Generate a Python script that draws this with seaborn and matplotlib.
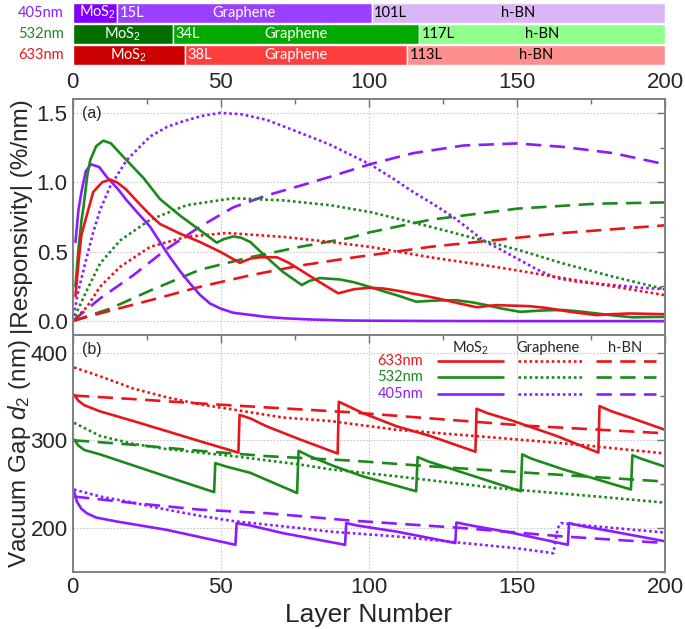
import numpy as np
import pandas as pd
import matplotlib
matplotlib.use('Agg')
import matplotlib.pyplot as plt
import seaborn as sns
from matplotlib.ticker import MultipleLocator

# ---- top strip: which material wins for each layer count
strip_wl = ['633nm', '532nm', '405nm']
mos2_end = [38, 34, 15]
graph_end = [113, 117, 101]
strip_cols = [['#cc0000', '#ff3f3f', '#ff8f8f'],
              ['#006e00', '#00aa00', '#90ff8c'],
              ['#7f00ff', '#9b40ff', '#dbb6f7']]

# ---- panel (a): |responsivity| (%/nm)
a_633_mos2_x = [1, 2, 3, 5.3, 7, 10, 12.7, 15, 18, 22.8, 26, 29.5, 36.3, 43, 49.8, 56.5, 60, 63.3, 69, 73, 76.8, 83.5, 89.7, 95, 100.4, 105, 109.4, 117, 124, 130, 136.4, 143, 154, 160, 168, 177, 182, 188, 195, 200]
a_633_mos2_y = [0.18, 0.42, 0.62, 0.80, 0.93, 1.00, 1.02, 1.00, 0.95, 0.84, 0.77, 0.70, 0.63, 0.57, 0.50, 0.42, 0.45, 0.46, 0.46, 0.42, 0.37, 0.28, 0.20, 0.23, 0.24, 0.235, 0.22, 0.19, 0.16, 0.13, 0.10, 0.115, 0.108, 0.095, 0.067, 0.043, 0.05, 0.055, 0.052, 0.05]

a_532_mos2_x = [1, 2, 3, 3.7, 5, 6, 8, 10.4, 13, 16, 20, 24, 29.5, 36.3, 43, 48.7, 51, 54.3, 57, 60, 65.5, 71, 77.4, 80, 83.5, 90.3, 95, 100.5, 105, 109.4, 116, 120, 125, 129.7, 135, 139.8, 145, 151, 155, 160, 165.6, 171, 177, 183, 189.3, 195, 200]
a_532_mos2_y = [0.25, 0.52, 0.72, 0.82, 1.05, 1.16, 1.26, 1.30, 1.28, 1.21, 1.12, 1.03, 0.88, 0.76, 0.655, 0.565, 0.59, 0.61, 0.60, 0.57, 0.46, 0.355, 0.26, 0.29, 0.31, 0.30, 0.28, 0.245, 0.215, 0.187, 0.14, 0.145, 0.15, 0.15, 0.135, 0.115, 0.09, 0.067, 0.072, 0.078, 0.08, 0.07, 0.055, 0.04, 0.027, 0.03, 0.03]

a_405_mos2_x = [1, 2, 3.1, 4.5, 6.2, 9, 11.5, 15, 18.3, 22, 26.2, 29.5, 32.9, 36.3, 39.7, 43, 46.4, 50, 54.3, 60, 65.5, 72, 80, 91, 100, 120, 150, 200]
a_405_mos2_y = [0.57, 0.80, 0.94, 1.08, 1.13, 1.11, 1.04, 0.96, 0.87, 0.78, 0.68, 0.57, 0.46, 0.36, 0.27, 0.19, 0.127, 0.09, 0.06, 0.045, 0.03, 0.02, 0.012, 0.005, 0.003, 0.001, 0.0, 0.0]

a_405_gr_x = [0, 2, 4.8, 7, 9.3, 12.7, 18.3, 26.2, 32, 37.4, 44, 49.8, 57, 65.5, 74, 82.4, 87, 93.7, 100.4, 108, 115, 122, 128.5, 134, 138.7, 145, 151, 157, 163.4, 170, 177, 185, 192, 200]
a_405_gr_y = [0, 0.22, 0.46, 0.64, 0.80, 0.97, 1.16, 1.33, 1.40, 1.44, 1.48, 1.50, 1.49, 1.45, 1.38, 1.31, 1.27, 1.20, 1.13, 1.03, 0.93, 0.84, 0.75, 0.66, 0.58, 0.51, 0.44, 0.37, 0.31, 0.285, 0.27, 0.255, 0.24, 0.23]

a_532_gr_x = [0, 2, 4.8, 9.3, 16, 26.2, 38.5, 54.3, 71, 87, 100.4, 120.7, 138.7, 151, 165.6, 182.5, 200]
a_532_gr_y = [0, 0.09, 0.22, 0.415, 0.58, 0.73, 0.835, 0.885, 0.87, 0.835, 0.786, 0.68, 0.58, 0.51, 0.415, 0.32, 0.23]

a_633_gr_x = [0, 2, 4.8, 9.3, 16, 26.2, 38.5, 52, 71, 87, 100.4, 120.7, 143, 165.6, 200]
a_633_gr_y = [0, 0.04, 0.10, 0.247, 0.39, 0.535, 0.607, 0.635, 0.607, 0.57, 0.535, 0.46, 0.39, 0.31, 0.187]

a_405_bn_x = [0, 9.3, 20.5, 31.8, 43, 54.3, 65.5, 76.8, 87, 100.4, 115, 132, 150, 165.6, 182.5, 200]
a_405_bn_y = [0, 0.163, 0.33, 0.52, 0.68, 0.82, 0.905, 0.975, 1.04, 1.13, 1.21, 1.265, 1.28, 1.255, 1.21, 1.13]

a_532_bn_x = [0, 12.7, 26.2, 43, 60, 76.8, 93.7, 100.4, 120.7, 150, 177, 200]
a_532_bn_y = [0, 0.09, 0.22, 0.37, 0.46, 0.535, 0.60, 0.64, 0.73, 0.81, 0.846, 0.855]

a_633_bn_x = [0, 7, 26.2, 43, 60, 76.8, 93.7, 120.7, 141, 165.6, 200]
a_633_bn_y = [0, 0.043, 0.15, 0.247, 0.33, 0.40, 0.455, 0.535, 0.58, 0.635, 0.69]

# ---- panel (b): vacuum gap d2 (nm)
b_633_mos2_x = [0.5, 2, 4, 9.3, 20.5, 31.8, 43, 56, 56.4, 60, 65.5, 76.8, 89.5, 89.9, 93, 98, 109.4, 120.7, 136, 136.4, 140, 148.8, 163.4, 177.5, 177.9, 182, 188.2, 200]
b_633_mos2_y = [352, 345, 340, 333, 322, 310.5, 299, 286, 329, 325, 316, 301, 285, 344, 339, 331, 316, 305, 287, 336, 331, 322, 305, 286, 339, 333, 326, 312]

b_532_mos2_x = [0.5, 2, 4, 9.3, 20.5, 31.8, 47.8, 48.2, 52, 60, 75.8, 76.3, 80, 88, 98, 116, 116.5, 120, 132, 151.3, 151.8, 155, 165.6, 188.5, 189, 192, 200]
b_532_mos2_y = [301, 294, 289, 284, 271.4, 258.7, 241, 274, 270, 263, 240, 288, 282, 271, 259, 242, 281, 276, 263, 242, 284, 279, 267, 244, 283, 279, 270]

b_405_mos2_x = [0.5, 1.5, 3, 4.8, 8, 14.8, 31.8, 55, 55.4, 60, 71, 92, 92.4, 96, 109.4, 129.2, 129.6, 133, 148.8, 167.2, 167.6, 171, 182.5, 200]
b_405_mos2_y = [242, 230, 222, 217, 212, 207.6, 198, 181, 205.7, 203, 194.3, 181, 205.7, 203, 196, 183, 206.4, 204, 194.3, 181, 205.7, 203, 196, 185]

b_633_gr_x = [0.5, 9.3, 20.5, 31.8, 43, 54.3, 71, 87, 109.4, 143, 171, 200]
b_633_gr_y = [383, 373, 359, 349, 341, 335, 326, 322, 312, 303, 295, 285]

b_532_gr_x = [0.5, 9.3, 20.5, 31.8, 54.3, 76.8, 87, 109.4, 143, 177, 200]
b_532_gr_y = [320, 305, 296, 290, 282, 272.4, 267, 259, 245.7, 236, 229]

b_405_gr_x = [0.5, 9.3, 20.5, 31.8, 43, 54.3, 65.5, 76.8, 87, 109.4, 132, 150, 162.3, 163, 163.8, 165, 177, 200]
b_405_gr_y = [244, 236, 229, 221, 214, 208, 204, 200, 196, 190.5, 183, 177, 171.4, 185, 200, 205.7, 201.8, 195]

b_633_bn_x = [0.5, 20.5, 43, 65.5, 93.7, 120.7, 154, 200]
b_633_bn_y = [351, 347, 342, 337.5, 332, 325, 316.5, 308]

b_532_bn_x = [0.5, 20.5, 43, 65.5, 93.7, 120.7, 154, 200]
b_532_bn_y = [300, 295, 288, 282, 277, 270.4, 263, 253]

b_405_bn_x = [0.5, 20.5, 43, 65.5, 93.7, 132, 165.6, 200]
b_405_bn_y = [236, 228.6, 221, 217, 208.7, 200, 190.5, 183]

RED = '#e8161b'
GRN = '#1b8a1b'
PUR = '#8c1cff'

sns.set_style('white')
plt.rcParams['font.family'] = ['Liberation Sans', 'DejaVu Sans']
plt.rcParams['mathtext.fontset'] = 'custom'
plt.rcParams['mathtext.it'] = 'Liberation Sans:italic'
plt.rcParams['mathtext.rm'] = 'Liberation Sans'
lab_font = ['Lato', 'DejaVu Sans']
TICK = 16
SF = 10.5

fig = plt.figure(figsize=(6.85, 6.29), dpi=100)
W, H = 685.0, 629.0
L, R = 72.5, 665.0
ax0 = fig.add_axes([L / W, 1 - 66 / H, (R - L) / W, 64 / H])
axa = fig.add_axes([L / W, 1 - 335 / H, (R - L) / W, 236 / H])
axb = fig.add_axes([L / W, 1 - 572 / H, (R - L) / W, 237 / H])

# ---- top strip
for i, wl in enumerate(strip_wl):
    c = strip_cols[i]
    ax0.barh(i, mos2_end[i], left=0, height=0.94, color=c[0])
    ax0.barh(i, graph_end[i] - mos2_end[i], left=mos2_end[i], height=0.94, color=c[1])
    ax0.barh(i, 200 - graph_end[i], left=graph_end[i], height=0.94, color=c[2])
    tc = [RED, GRN, PUR][i]
    ax0.text(-3, i, wl, ha='right', va='center', color=tc, fontsize=SF, family=lab_font)
    if mos2_end[i] < 20:
        ax0.text(2.3, i, 'MoS$_2$', ha='left', va='center', color='white', fontsize=SF, family=lab_font)
    else:
        ax0.text(mos2_end[i] / 2, i, 'MoS$_2$', ha='center', va='center', color='white', fontsize=SF, family=lab_font)
    ax0.text(mos2_end[i] + 0.8, i, '%dL' % mos2_end[i], ha='left', va='center', color='white', fontsize=SF, family=lab_font)
    ax0.text((mos2_end[i] + graph_end[i]) / 2, i, 'Graphene', ha='center', va='center', color='white', fontsize=SF, family=lab_font)
    ax0.text(graph_end[i] + 0.8, i, '%dL' % graph_end[i], ha='left', va='center', color='black', fontsize=SF, family=lab_font)
    ax0.text((graph_end[i] + 200) / 2, i, 'h-BN', ha='center', va='center', color='black', fontsize=SF, family=lab_font)
ax0.set_xlim(0, 200)
ax0.set_ylim(-0.5, 2.5)
ax0.set_yticks([])
ax0.set_xticks([0, 50, 100, 150, 200])
ax0.tick_params(axis='x', length=0, labelsize=TICK, pad=4)
for s in ax0.spines.values():
    s.set_visible(False)

mat_style = {'mos2': '-', 'gr': (0, (1.0, 1.1)), 'bn': (0, (5.8, 3.2))}
lw = 1.9


def draw(ax, x, y, color, ls):
    df = pd.DataFrame({'layer': x, 'val': y})
    sns.lineplot(data=df, x='layer', y='val', color=color, linestyle=ls, lw=lw,
                 estimator=None, sort=False, ax=ax)


# ---- panel (a)
draw(axa, a_405_bn_x, a_405_bn_y, PUR, mat_style['bn'])
draw(axa, a_532_bn_x, a_532_bn_y, GRN, mat_style['bn'])
draw(axa, a_633_bn_x, a_633_bn_y, RED, mat_style['bn'])
draw(axa, a_405_gr_x, a_405_gr_y, PUR, mat_style['gr'])
draw(axa, a_532_gr_x, a_532_gr_y, GRN, mat_style['gr'])
draw(axa, a_633_gr_x, a_633_gr_y, RED, mat_style['gr'])
draw(axa, a_405_mos2_x, a_405_mos2_y, PUR, '-')
draw(axa, a_532_mos2_x, a_532_mos2_y, GRN, '-')
draw(axa, a_633_mos2_x, a_633_mos2_y, RED, '-')

# ---- panel (b)
draw(axb, b_405_bn_x, b_405_bn_y, PUR, mat_style['bn'])
draw(axb, b_532_bn_x, b_532_bn_y, GRN, mat_style['bn'])
draw(axb, b_633_bn_x, b_633_bn_y, RED, mat_style['bn'])
draw(axb, b_405_gr_x, b_405_gr_y, PUR, mat_style['gr'])
draw(axb, b_532_gr_x, b_532_gr_y, GRN, mat_style['gr'])
draw(axb, b_633_gr_x, b_633_gr_y, RED, mat_style['gr'])
draw(axb, b_405_mos2_x, b_405_mos2_y, PUR, '-')
draw(axb, b_532_mos2_x, b_532_mos2_y, GRN, '-')
draw(axb, b_633_mos2_x, b_633_mos2_y, RED, '-')

for ax in (axa, axb):
    ax.set_xlim(0, 200)
    ax.xaxis.set_major_locator(MultipleLocator(50))
    ax.xaxis.set_minor_locator(MultipleLocator(25))
    ax.tick_params(which='both', direction='in', top=True, right=True,
                   color='#707070', labelsize=TICK)
    ax.tick_params(which='major', length=6, width=1)
    ax.tick_params(which='minor', length=3.5, width=1)
    ax.grid(True, which='major', color='#c8c8c8', linestyle=(0, (1.5, 1.5)), lw=0.8)
    for s in ax.spines.values():
        s.set_color('#808080')
        s.set_linewidth(1.4)
    ax.set_xlabel('')

axa.set_ylim(-0.1, 1.6)
axa.yaxis.set_major_locator(MultipleLocator(0.5))
axa.yaxis.set_minor_locator(MultipleLocator(0.25))
axa.set_xticklabels([])
axa.set_ylabel('|Responsivity| (%/nm)', fontsize=17.5)
axa.yaxis.set_label_coords(-0.066, 0.5)
axa.text(0.016, 0.94, '(a)', transform=axa.transAxes, fontsize=11.5, va='center', ha='left')

axb.set_ylim(150, 420)
axb.yaxis.set_major_locator(MultipleLocator(100))
axb.yaxis.set_minor_locator(MultipleLocator(50))
axb.set_ylabel('Vacuum Gap $d_2$ (nm)', fontsize=17.5)
axb.yaxis.set_label_coords(-0.066, 0.5)
axb.set_xlabel('Layer Number', fontsize=19, labelpad=4)
axb.text(0.016, 0.94, '(b)', transform=axb.transAxes, fontsize=11.5, va='center', ha='left')

# ---- hand-made legend in panel (b)
heads = ['MoS$_2$', 'Graphene', 'h-BN']
head_x = [0.671, 0.8025, 0.9325]
seg_x = [(0.617, 0.726), (0.752, 0.860), (0.884, 0.985)]
seg_ls = ['-', mat_style['gr'], mat_style['bn']]
for hx, h in zip(head_x, heads):
    axb.text(hx, 0.945, h, transform=axb.transAxes, ha='center', va='center',
             fontsize=10.5, family=lab_font)
leg_rows = [('633nm', RED, 0.890), ('532nm', GRN, 0.822), ('405nm', PUR, 0.751)]
for name, col, yy in leg_rows:
    axb.text(0.592, yy, name, transform=axb.transAxes, ha='right', va='center',
             color=col, fontsize=10.5, family=lab_font)
    for (x0, x1), ls in zip(seg_x, seg_ls):
        axb.plot([x0, x1], [yy, yy], transform=axb.transAxes, color=col, ls=ls, lw=lw)

fig.savefig('out.png', dpi=100)
